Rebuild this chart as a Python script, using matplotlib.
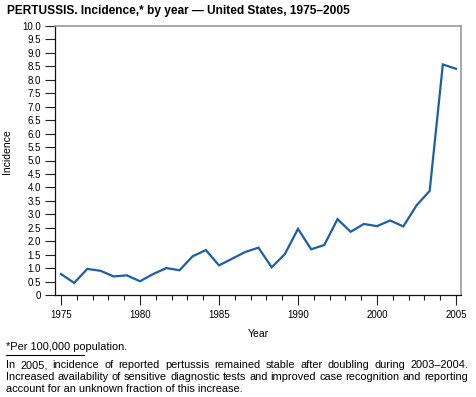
import matplotlib
matplotlib.use("Agg")
import matplotlib.pyplot as plt
from matplotlib.lines import Line2D
import numpy as np

plt.rcParams['font.family'] = ['Liberation Sans', 'DejaVu Sans']

years = list(range(1975, 2006))
incidence = [0.78, 0.45, 0.97, 0.90, 0.69, 0.73, 0.51, 0.78, 1.00, 0.92,
             1.44, 1.67, 1.10, 1.35, 1.60, 1.76, 1.03, 1.52, 2.46, 1.70,
             1.86, 2.82, 2.35, 2.64, 2.56, 2.77, 2.55, 3.33, 3.87, 8.57, 8.41]
x_tick_labels = ["1975", "1980", "1985", "1990", "2000", "2005"]
y_ticks = [0, 0.5, 1.0, 1.5, 2.0, 2.5, 3.0, 3.5, 4.0, 4.5, 5.0, 5.5, 6.0,
           6.5, 7.0, 7.5, 8.0, 8.5, 9.0, 9.5, 10.0]
title = "PERTUSSIS. Incidence,* by year \u2014 United States, 1975\u20132005"
footnote = "*Per 100,000 population."
paragraph = [
    "In 2005, incidence of reported pertussis remained stable after doubling during 2003\u20132004.",
    "Increased availability of sensitive diagnostic tests and improved case recognition and reporting",
    "account for an unknown fraction of this increase.",
]

W, H = 476, 397
fig = plt.figure(figsize=(W / 100, H / 100), dpi=100)
ax = fig.add_axes([55 / W, 1 - 295 / H, (461 - 55) / W, (295 - 26) / H])

ax.plot(years, incidence, color='#1a5fa8', lw=1.6, solid_joinstyle='miter')

ax.set_ylim(0, 10)
span = years[-1] - years[0]
ax.set_xlim(years[0] - 6 / 395 * span, years[-1] + 5 / 395 * span)

major = np.linspace(years[0], years[-1], len(x_tick_labels))
minor = np.linspace(years[0], years[-1], 26)
ax.set_xticks(major)
ax.set_xticklabels(x_tick_labels)
ax.set_xticks(minor, minor=True)
ax.set_yticks(y_ticks)
ax.set_yticklabels(["0" if v == 0 else f"{v:.1f}" for v in y_ticks])

ax.tick_params(axis='both', which='major', labelsize=7, colors='#222222',
               labelcolor='black')
ax.tick_params(axis='x', which='major', length=7, width=0.8, pad=4)
ax.tick_params(axis='x', which='minor', length=3.5, width=0.8, colors='#222222')
ax.tick_params(axis='y', which='major', length=7, width=0.8, pad=3)

for s in ['left', 'bottom']:
    ax.spines[s].set_color('#111111')
    ax.spines[s].set_linewidth(0.9)
for s in ['top', 'right']:
    ax.spines[s].set_color('#999999')
    ax.spines[s].set_linewidth(1.2)

ax.set_xlabel("Year", fontsize=7.5, labelpad=6)
fig.text(7 / W, 1 - 152 / H, "Incidence", rotation=90, fontsize=7.5,
         ha='center', va='center')

fig.text(7 / W, 1 - 11 / H, title, fontsize=8.6, fontweight='bold',
         ha='left', va='center')

fs = 7.9
fig.text(6 / W, 1 - 347 / H, footnote, fontsize=fs, ha='left', va='center')
fig.add_artist(Line2D([6 / W, 84 / W], [1 - 355 / H, 1 - 355 / H],
                      color='black', lw=0.8))

# justified paragraph
renderer = fig.canvas.get_renderer()
x0, x1 = 6, 468
ys = [365, 377, 389]
for i, (line, yy) in enumerate(zip(paragraph, ys)):
    words = line.split(" ")
    if i == len(paragraph) - 1:
        fig.text(x0 / W, 1 - yy / H, line, fontsize=fs, ha='left', va='center')
        continue
    widths = []
    for w in words:
        t = fig.text(0, 0, w, fontsize=fs)
        widths.append(t.get_window_extent(renderer).width)
        t.remove()
    gap = (x1 - x0 - sum(widths)) / (len(words) - 1)
    x = x0
    for w, wd in zip(words, widths):
        fig.text(x / W, 1 - yy / H, w, fontsize=fs, ha='left', va='center')
        x += wd + gap

fig.savefig("out.png", dpi=100)
